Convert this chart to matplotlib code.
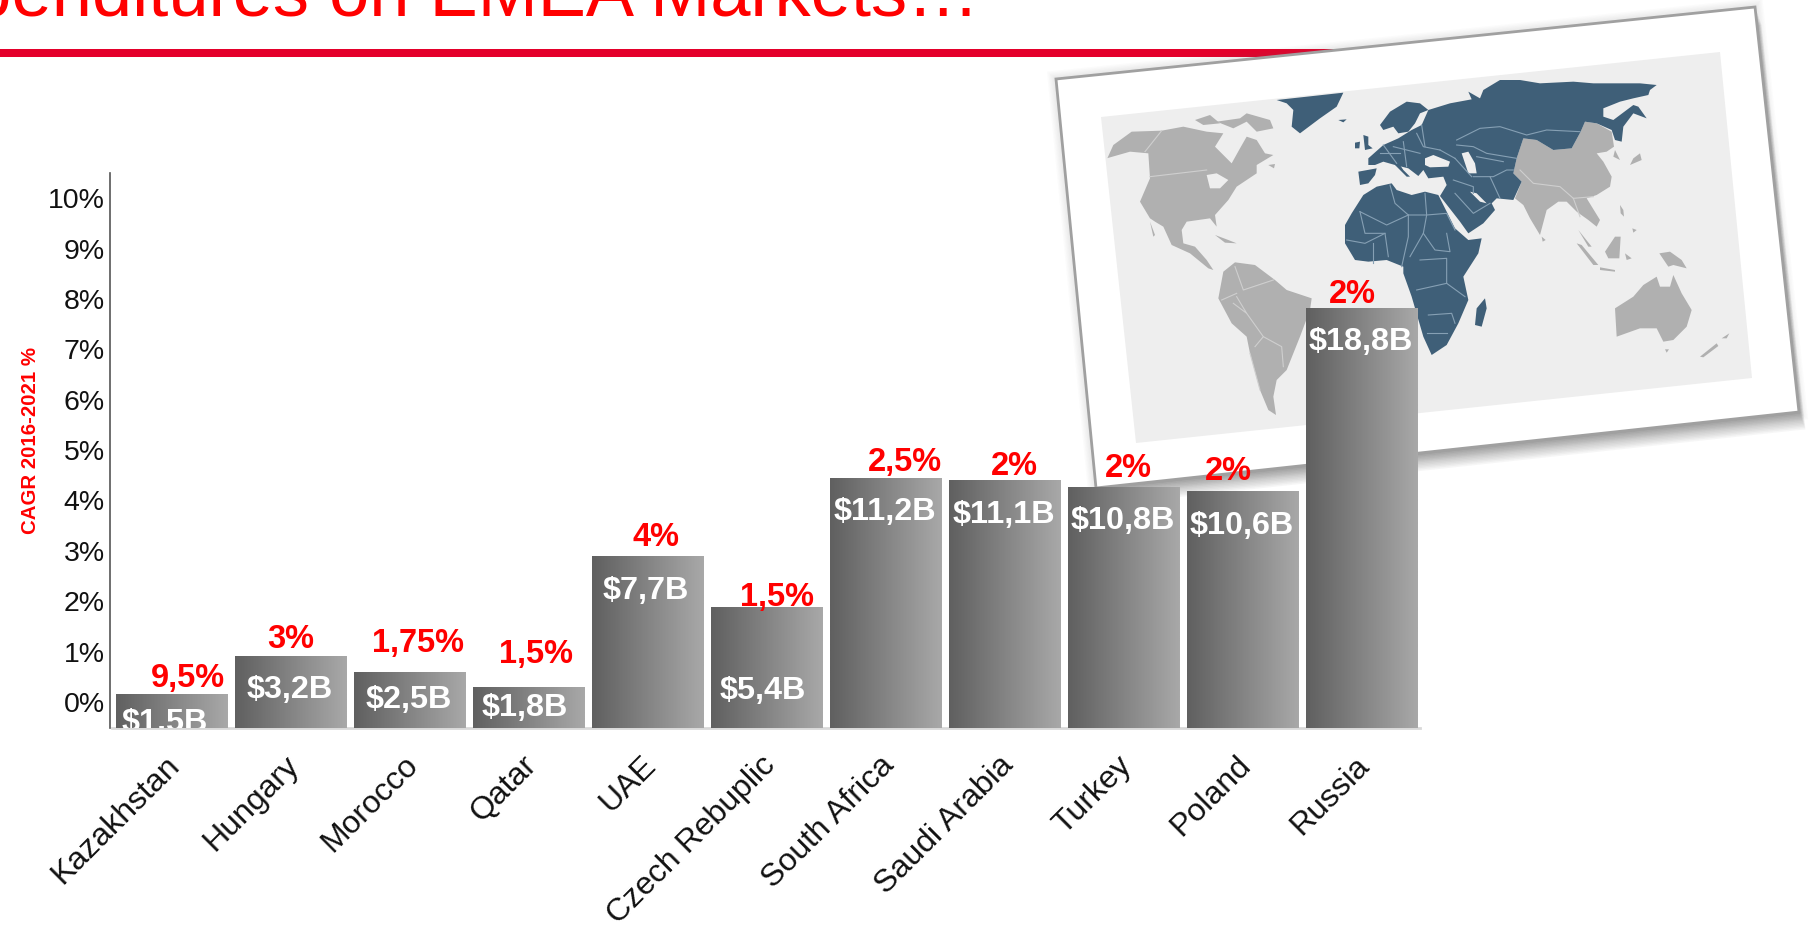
import numpy as np
import matplotlib
matplotlib.use("Agg")
import matplotlib.pyplot as plt
from matplotlib.patches import Polygon
from matplotlib.transforms import ScaledTranslation

plt.rcParams['font.family'] = ['Liberation Sans', 'DejaVu Sans']

countries = ["Kazakhstan", "Hungary", "Morocco", "Qatar", "UAE", "Czech Rebuplic",
             "South Africa", "Saudi Arabia", "Turkey", "Poland", "Russia"]
spend = [1.5, 3.2, 2.5, 1.8, 7.7, 5.4, 11.2, 11.1, 10.8, 10.6, 18.8]
spend_labels = ["$1,5B", "$3,2B", "$2,5B", "$1,8B", "$7,7B", "$5,4B",
                "$11,2B", "$11,1B", "$10,8B", "$10,6B", "$18,8B"]
cagr_labels = ["9,5%", "3%", "1,75%", "1,5%", "4%", "1,5%", "2,5%", "2%", "2%", "2%", "2%"]
pct_ticks = [0, 1, 2, 3, 4, 5, 6, 7, 8, 9, 10]

# label offsets from the top of each bar, in pixels
cagr_dx = [16, 0, 8, 7, 8, 10, 19, 10, 5, -14, -9]
cagr_dy = [16, 17, 29, 33, 19, 10, 16, 14, 19, 20, 14]
spend_dx = [-7, -1, -1, -4, -2, -4, -1, -1, -1, -1, -1]
spend_dy = [-28, -33, -28, -20, -35, -83, -34, -34, -34, -34, -33]

RED = "#ff0000"
MAP_DARK = "#3f5f78"
MAP_GREY = "#b0b0b0"
MAP_BG = "#eeeeee"

# map outlines traced on three 3x crops of the picture (crop origin given below)
B_ORIGIN = (1100, 90)
A_ORIGIN = (1340, 70)
C_ORIGIN = (1500, 130)

north_america = [(22,205),(40,165),(95,125),(185,122),(250,110),(320,125),(370,130),(345,170),(395,220),(420,175),
                 (440,140),(470,150),(495,190),(520,195),(470,225),(470,250),(410,290),(385,330),(345,375),(350,410),
                 (330,385),(260,395),(245,420),(250,460),(285,470),(320,510),(340,540),(325,535),(270,490),(215,465),
                 (190,410),(165,395),(150,385),(120,335),(150,265),(145,190),(90,185),(20,205)]
arctic1 = [(285,90),(330,75),(360,100),(310,105)]
arctic2 = [(350,95),(420,85),(440,70),(510,90),(520,115),(470,125),(440,95),(400,115)]
newfoundland = [(505,225),(525,222),(522,235)]
baja = [(150,395),(165,435),(160,440)]
cuba = [(345,435),(385,450),(410,460),(375,458)]
south_america = [(370,545),(405,517),(465,525),(525,570),(560,600),(635,625),(630,660),(600,740),(580,790),(560,840),
                 (530,870),(520,920),(528,975),(505,960),(480,900),(450,790),(440,740),(395,700),(355,625)]
grey_b = [north_america, arctic1, arctic2, newfoundland, baja, cuba, south_america]
great_lakes = [(320,255),(350,250),(385,270),(360,295),(330,295)]
greenland = [(530,30),(730,8),(710,50),(660,85),(600,130),(575,110),(580,60),(560,40)]
iceland = [(715,90),(740,88),(730,97)]
borders_b = [[(150,260),(320,240)], [(135,185),(185,122)], [(440,670),(490,740),(545,770),(550,830)],
             [(410,620),(440,670),(400,640)], [(405,530),(430,600),(520,570)], [(365,630),(410,610)],
             [(465,770),(490,740)], [(450,790),(480,900)]]

eurasia = [(85,265),(130,225),(175,205),(215,180),(245,165),(265,120),(330,100),(395,88),(385,65),(420,85),(430,60),
           (480,30),(540,30),(600,40),(700,35),(760,40),(900,40),(950,45),(930,60),(925,75),(880,85),(840,95),
           (790,115),(790,140),(820,150),(880,105),(895,110),(920,145),(880,130),(850,170),(845,215),(825,210),
           (815,180),(770,160),(735,155),(722,185),(695,235),(640,240),(590,210),(550,205),(530,265),(520,310),
           (545,335),(520,390),(470,385),(455,400),(465,420),(430,460),(385,490),(360,455),(300,378),(320,345),
           (310,320),(265,325),(250,300),(235,318),(205,295),(165,285),(130,275),(105,285),(85,285)]
scandinavia = [(120,165),(150,125),(200,95),(240,100),(265,120),(240,130),(225,160),(205,185),(175,190),(160,170),(130,180)]
iberia = [(55,305),(110,295),(105,315),(85,340),(60,345)]
britain = [(70,195),(85,200),(85,225),(98,235),(75,240)]
ireland = [(45,218),(60,215),(58,235),(45,235)]
italy = [(170,270),(190,300),(210,320),(200,320),(165,285)]
africa = [(15,465),(35,430),(70,375),(110,350),(155,340),(170,360),(215,375),(255,365),(295,375),(345,475),(385,510),
          (425,505),(415,550),(370,620),(385,690),(355,760),(320,825),(275,855),(250,800),(215,680),(190,610),
          (190,590),(140,570),(85,575),(45,570),(15,520)]
madagascar = [(435,685),(440,715),(425,770),(405,765),(410,715)]
dark_a = [eurasia, scandinavia, iberia, britain, ireland, italy, africa, madagascar]
black_sea = [(255,265),(280,255),(330,275),(325,290),(270,292),(255,285)]
caspian = [(365,250),(385,245),(405,280),(410,310),(385,310),(375,280)]
gulf = [(390,365),(410,370),(440,400),(420,395)]
seas_a = [black_sea, caspian, gulf]
china_india = [(550,205),(590,210),(640,240),(695,235),(722,185),(735,155),(770,160),(815,185),(822,230),(800,245),
               (770,250),(790,275),(815,320),(810,350),(770,375),(740,385),(780,450),(770,470),(745,450),(710,425),
               (680,395),(655,395),(620,420),(600,495),(570,445),(550,405),(525,385),(545,335),(520,310),(530,265)]
japan = [(900,250),(905,270),(870,285),(880,265)]
korea = [(820,260),(840,270),(825,240)]
grey_a = [china_india, japan, korea]
borders_a = [[(60,425),(140,465),(205,435),(260,435),(320,430),(345,480)], [(150,345),(165,400),(205,435)],
             [(255,370),(260,435),(250,490),(210,560)], [(60,425),(75,490),(135,490),(145,560)],
             [(205,435),(205,500),(185,590)], [(250,490),(285,540),(330,545),(320,490)],
             [(240,570),(320,565),(320,640)], [(230,660),(320,640),(375,680)], [(265,735),(335,730),(345,760)],
             [(260,790),(320,790)], [(20,510),(75,520),(135,490)], [(100,580),(100,520)],
             [(350,210),(420,175),(480,170),(560,195),(620,180),(720,185)], [(350,225),(400,230),(440,250),(530,265)],
             [(410,260),(490,275)], [(400,320),(460,320),(500,300),(520,300)], [(450,320),(480,385)],
             [(340,330),(400,350),(400,370)], [(345,265),(395,320)], [(230,190),(250,230),(300,240)],
             [(130,225),(170,280)], [(160,230),(240,250)], [(190,215),(200,290)], [(120,250),(180,250)],
             [(245,165),(255,230)], [(300,240),(345,265)], [(345,370),(400,430),(450,400)]]
borders_asia = [[(540,300),(580,340),(660,350),(700,385),(720,440)], [(700,385),(760,380)]]

sumatra = [(230,340),(245,345),(295,405),(280,405)]
malay = [(235,300),(275,350),(265,350)]
borneo = [(345,320),(362,320),(358,385),(325,385),(315,365)]
luzon = [(360,225),(370,240),(372,260),(362,250)]
mindanao = [(397,295),(410,300),(400,308)]
sulawesi = [(375,370),(395,385),(380,390)]
java = [(300,412),(345,420),(345,425),(300,420)]
new_guinea = [(478,370),(510,365),(545,390),(560,415),(520,405),(505,410)]
australia = [(345,535),(400,500),(430,465),(470,440),(480,470),(510,470),(520,435),(545,490),(575,540),(560,590),
             (520,630),(490,635),(470,595),(420,595),(350,620)]
tasmania = [(495,658),(507,658),(500,668)]
nz_south = [(600,680),(650,640),(655,648),(610,682)]
nz_north = [(665,625),(688,610),(680,625)]
sri_lanka = [(125,320),(137,330),(128,335)]
grey_c = [sumatra, malay, borneo, luzon, mindanao, sulawesi, java, new_guinea, australia, tasmania, nz_south,
          nz_north, sri_lanka]


def crop_xy(points, origin):
    return [(origin[0] + p[0] / 3, origin[1] + p[1] / 3) for p in points]


fig = plt.figure(figsize=(18.1, 9.25), dpi=100)

back = fig.add_axes([0, 0, 1, 1], zorder=0)
back.set_xlim(0, 1810)
back.set_ylim(925, 0)
back.axis("off")

back.text(979, 16, "Expenditures on EMEA Markets…", color=RED, fontsize=52, ha="right", va="baseline")
back.fill_between([0, 1354], 48.7, 57.3, color="#e4002b", lw=0)

frame = np.array([(1056, 79), (1755, 7), (1799, 412), (1096, 488)])
# soft shadow: mostly below and right of the frame
for i in range(12):
    back.add_patch(Polygon(frame + [1 + i * 0.5, 2 + i * 1.4], closed=True, fc="#444444", alpha=0.045, lw=0))
for i in range(6):
    back.add_patch(Polygon(frame, closed=True, fc="none", ec="#666666", alpha=0.025,
                           lw=2 + i * 2, joinstyle="miter"))
back.add_patch(Polygon(frame, closed=True, fc="white", ec="#a0a0a0", lw=2))
back.add_patch(Polygon([(1101, 117), (1720, 52), (1752, 378), (1136, 443)], closed=True, fc=MAP_BG, lw=0))

for shape in grey_b:
    back.add_patch(Polygon(crop_xy(shape, B_ORIGIN), closed=True, fc=MAP_GREY, lw=0))
back.add_patch(Polygon(crop_xy(great_lakes, B_ORIGIN), closed=True, fc=MAP_BG, lw=0))
for shape in [greenland, iceland]:
    back.add_patch(Polygon(crop_xy(shape, B_ORIGIN), closed=True, fc=MAP_DARK, lw=0))
for shape in grey_a:
    back.add_patch(Polygon(crop_xy(shape, A_ORIGIN), closed=True, fc=MAP_GREY, lw=0))
for shape in grey_c:
    back.add_patch(Polygon(crop_xy(shape, C_ORIGIN), closed=True, fc=MAP_GREY, lw=0))
for shape in dark_a:
    back.add_patch(Polygon(crop_xy(shape, A_ORIGIN), closed=True, fc=MAP_DARK, lw=0))
for shape in seas_a:
    back.add_patch(Polygon(crop_xy(shape, A_ORIGIN), closed=True, fc=MAP_BG, lw=0))
for line in borders_a:
    pts = crop_xy(line, A_ORIGIN)
    back.plot([p[0] for p in pts], [p[1] for p in pts], color="#86a0b4", lw=0.8)
for line in borders_asia:
    pts = crop_xy(line, A_ORIGIN)
    back.plot([p[0] for p in pts], [p[1] for p in pts], color="#cfcfcf", lw=0.8)
for line in borders_b:
    pts = crop_xy(line, B_ORIGIN)
    back.plot([p[0] for p in pts], [p[1] for p in pts], color="#cfcfcf", lw=0.8)

W, H = 1810.0, 925.0
ax = fig.add_axes([109.5 / W, 1 - 728 / H, (1420 - 109.5) / W, (728 - 173) / H], zorder=1)
ax.patch.set_visible(False)
ax.set_ylim(-0.516, 10.5)
ax.set_yticks(pct_ticks)
ax.set_yticklabels([str(t) + "%" for t in pct_ticks], fontsize=20.5, color="#111111")
ax.tick_params(axis="y", length=0, pad=3.5)
ax.spines["top"].set_visible(False)
ax.spines["right"].set_visible(False)
ax.spines["bottom"].set_visible(False)
ax.spines["left"].set_color("#555555")
ax.spines["left"].set_linewidth(1.2)

# bar heights follow the dollar values, not the percent axis
bx = ax.twinx()
bx.patch.set_visible(False)
bx.set_ylim(0, 24.9)
bx.set_yticks([])
for s in bx.spines.values():
    s.set_visible(False)

x = np.arange(len(countries))
bars = bx.bar(x, spend, width=0.941, color="none", lw=0)
grad = np.linspace(0, 1, 64).reshape(1, -1)
cmap = matplotlib.colors.LinearSegmentedColormap.from_list("bar", ["#606060", "#a8a8a8"])
for b in bars:
    bx.imshow(grad, cmap=cmap, aspect="auto", zorder=2,
              extent=(b.get_x(), b.get_x() + b.get_width(), 0, b.get_height()))
bx.set_xlim(-0.525, 10.49)
bx.set_ylim(0, 24.9)
bx.plot([-0.5, 10.49], [0, 0], color="#d9d9d9", lw=2, zorder=1, clip_on=False)

for i in range(len(countries)):
    bx.annotate(cagr_labels[i], (x[i], spend[i]), xytext=(cagr_dx[i], cagr_dy[i]), textcoords="offset pixels",
                ha="center", va="center", color=RED, fontsize=23.5, fontweight="bold", zorder=4)
    bx.annotate(spend_labels[i], (x[i], spend[i]), xytext=(spend_dx[i], spend_dy[i]), textcoords="offset pixels",
                ha="center", va="center", color="white", fontsize=23.3, fontweight="bold", zorder=4, clip_on=True)

ax.set_xlim(-0.525, 10.49)
ax.set_xticks(x)
ax.set_xticklabels(countries, rotation=45, ha="right", va="top", rotation_mode="anchor", fontsize=23, color="#111111")
ax.tick_params(axis="x", length=0, pad=16)
shift = ScaledTranslation(-7 / 100, 0, fig.dpi_scale_trans)
for lab in ax.get_xticklabels():
    lab.set_transform(lab.get_transform() + shift)

fig.text(30 / W, 1 - 440 / H, "CAGR 2016-2021 %", rotation=90, color=RED, fontsize=14.7, fontweight="bold",
         ha="center", va="center")

fig.savefig("out.png", dpi=100)
